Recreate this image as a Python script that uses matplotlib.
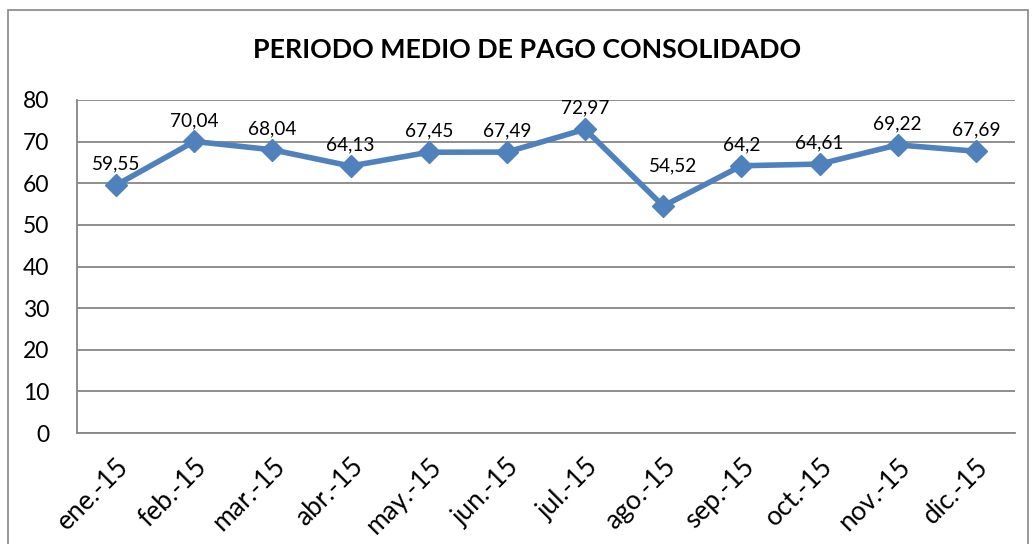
import matplotlib
matplotlib.use("Agg")
import matplotlib.pyplot as plt
from matplotlib.patches import Rectangle

months = ["ene.-15", "feb.-15", "mar.-15", "abr.-15", "may.-15", "jun.-15",
          "jul.-15", "ago.-15", "sep.-15", "oct.-15", "nov.-15", "dic.-15"]
values = [59.55, 70.04, 68.04, 64.13, 67.45, 67.49, 72.97, 54.52, 64.2, 64.61, 69.22, 67.69]
labels = ["59,55", "70,04", "68,04", "64,13", "67,45", "67,49", "72,97", "54,52", "64,2", "64,61", "69,22", "67,69"]
yticks = [0, 10, 20, 30, 40, 50, 60, 70, 80]

plt.rcParams['font.family'] = ['Lato', 'DejaVu Sans']

fig = plt.figure(figsize=(10.34, 5.44), dpi=100)
ax = fig.add_axes([77/1034, 1-433/544, (1015-77)/1034, (433-100)/544])

fig.patches.append(Rectangle((8/1034, -0.05), 1020/1034, 1.05 - 10/544,
                             transform=fig.transFigure, fill=False,
                             edgecolor='#868686', linewidth=1.2))

x = list(range(len(months)))
ax.plot(x, values, color='#4F81BD', linewidth=4, marker='D', markersize=11,
        markerfacecolor='#4F81BD', markeredgecolor='#4F81BD', zorder=3)
for xi, v, lab in zip(x, values, labels):
    off = (0, 9)
    if xi == 7:  # label moved up/right in the original
        off = (7, 23)
    ax.annotate(lab, (xi, v), xytext=off, textcoords='offset points',
                ha='center', va='bottom', fontsize=13.7, color='black')

ax.set_xlim(-0.5, len(months) - 0.5)
ax.set_ylim(0, 80)
ax.set_yticks(yticks)
ax.set_yticklabels([str(t) for t in yticks], fontsize=16.5)
ax.set_xticks(x)
ax.set_xticklabels(months, rotation=45, ha='right', rotation_mode='anchor', fontsize=19)
for t in ax.get_xticklabels():
    t.set_x(t.get_position()[0])
ax.tick_params(axis='x', length=0, pad=15)
ax.tick_params(axis='y', length=0, pad=20)
ax.yaxis.grid(True, color='#868686', linewidth=1.3)
ax.set_axisbelow(True)
for s in ['top', 'right']:
    ax.spines[s].set_visible(False)
for s in ['left', 'bottom']:
    ax.spines[s].set_color('#868686')
    ax.spines[s].set_linewidth(1.3)

fig.text(527/1034, 1-50/544, "PERIODO MEDIO DE PAGO CONSOLIDADO", ha='center', va='center',
         fontsize=19.3, fontweight='bold')

fig.savefig("out.png", dpi=100)
